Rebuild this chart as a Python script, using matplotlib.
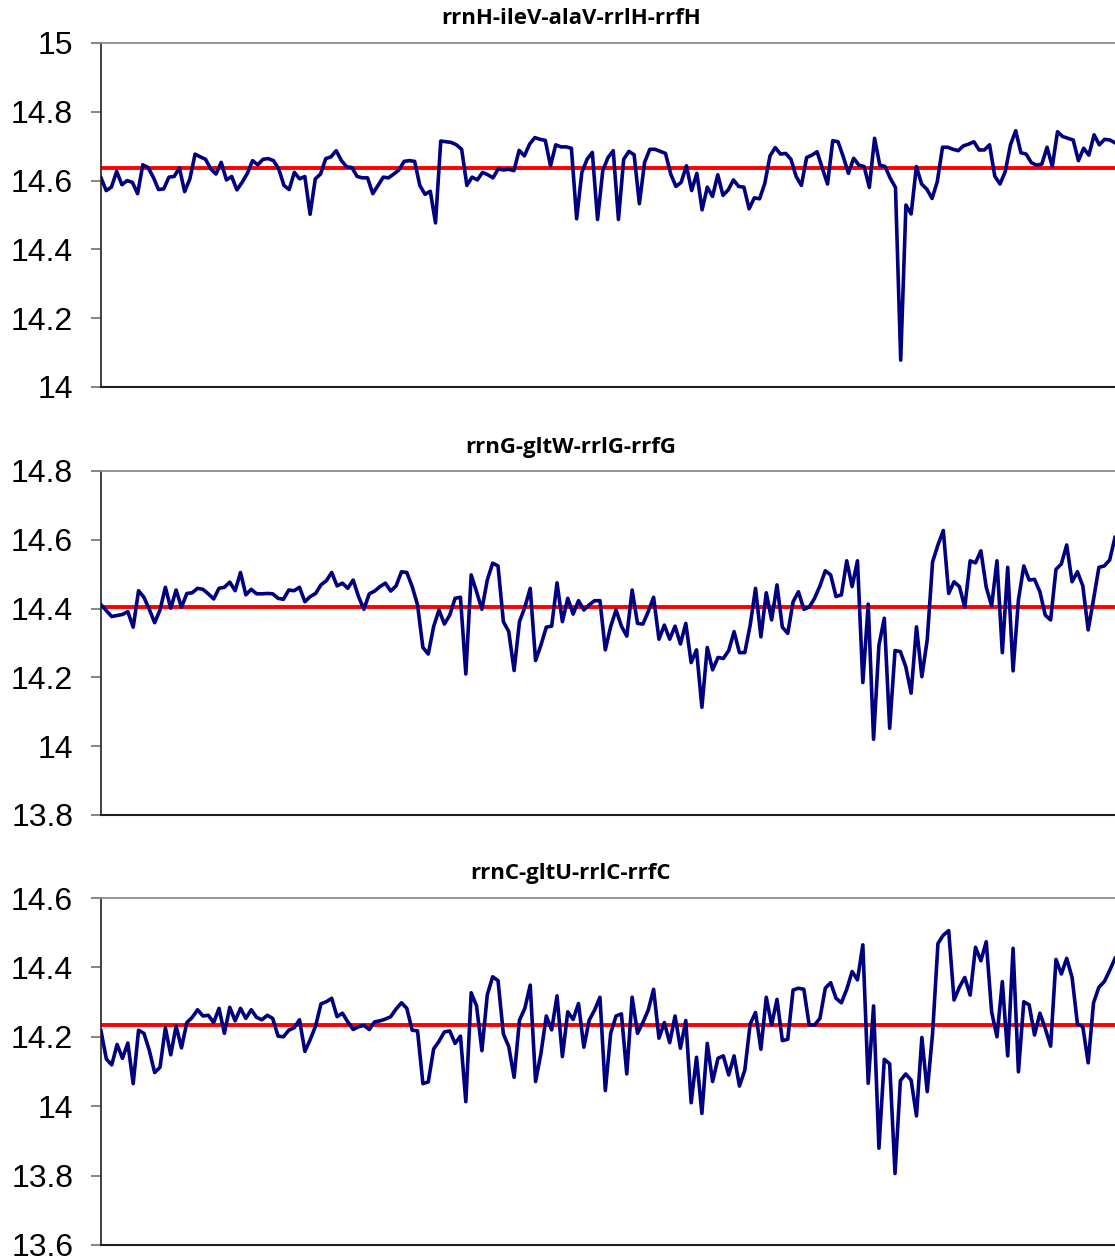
import matplotlib
matplotlib.use("Agg")
import matplotlib.pyplot as plt
from matplotlib.ticker import FuncFormatter

# titles of the three operons
titles = ["rrnH-ileV-alaV-rrlH-rrfH", "rrnG-gltW-rrlG-rrfG", "rrnC-gltU-rrlC-rrfC"]

# average level (red line)
mean_h = 14.636
mean_g = 14.406
mean_c = 14.234

rrnH = [
    14.608, 14.571, 14.581, 14.627, 14.588, 14.600, 14.595, 14.562, 14.646, 14.638,
    14.610, 14.574, 14.576, 14.610, 14.612, 14.637, 14.568, 14.605, 14.677, 14.669,
    14.662, 14.634, 14.619, 14.653, 14.602, 14.612, 14.573, 14.595, 14.621, 14.658,
    14.646, 14.662, 14.664, 14.658, 14.634, 14.586, 14.574, 14.624, 14.605, 14.612,
    14.502, 14.605, 14.619, 14.664, 14.669, 14.687, 14.658, 14.640, 14.638, 14.612,
    14.608, 14.608, 14.562, 14.586, 14.610, 14.608, 14.619, 14.631, 14.656, 14.658,
    14.656, 14.586, 14.560, 14.569, 14.477, 14.715, 14.713, 14.711, 14.704, 14.691,
    14.586, 14.610, 14.602, 14.624, 14.617, 14.608, 14.634, 14.631, 14.633, 14.629,
    14.688, 14.672, 14.706, 14.725, 14.720, 14.717, 14.643, 14.704, 14.698, 14.698,
    14.694, 14.489, 14.624, 14.662, 14.682, 14.487, 14.629, 14.667, 14.687, 14.487,
    14.662, 14.685, 14.675, 14.533, 14.653, 14.691, 14.691, 14.685, 14.679, 14.619,
    14.583, 14.595, 14.643, 14.571, 14.621, 14.515, 14.581, 14.554, 14.617, 14.557,
    14.573, 14.602, 14.583, 14.581, 14.518, 14.550, 14.547, 14.592, 14.672, 14.696,
    14.677, 14.679, 14.662, 14.612, 14.586, 14.667,
    14.674, 14.684, 14.636, 14.590, 14.716, 14.713, 14.670, 14.621, 14.665, 14.645,
    14.641, 14.580, 14.723, 14.645, 14.641, 14.607, 14.580, 14.078, 14.529, 14.503,
    14.641, 14.590, 14.575, 14.548, 14.597, 14.697, 14.697, 14.691, 14.687, 14.701,
    14.706, 14.713, 14.689, 14.689, 14.704, 14.613, 14.590, 14.626, 14.704, 14.745,
    14.681, 14.677, 14.652, 14.645, 14.648, 14.697, 14.641, 14.742, 14.728, 14.723,
    14.718, 14.658, 14.694, 14.674, 14.733, 14.704, 14.720, 14.718, 14.710,
]

rrnG = [
    14.411, 14.394, 14.377, 14.380, 14.383, 14.391, 14.346, 14.452, 14.433, 14.398,
    14.359, 14.396, 14.462, 14.401, 14.454, 14.404, 14.444, 14.446, 14.459, 14.456,
    14.443, 14.428, 14.459, 14.462, 14.477, 14.452, 14.505, 14.440, 14.456, 14.443,
    14.443, 14.444, 14.443, 14.430, 14.427, 14.454, 14.452, 14.462, 14.420, 14.435,
    14.444, 14.469, 14.481, 14.505, 14.466, 14.474, 14.459, 14.483, 14.435, 14.398,
    14.443, 14.451, 14.464, 14.474, 14.451, 14.466, 14.507, 14.505, 14.464, 14.411,
    14.287, 14.268, 14.348, 14.396, 14.355, 14.381,
    14.430, 14.433, 14.210, 14.498, 14.449, 14.398, 14.483, 14.532, 14.524, 14.362,
    14.333, 14.220, 14.362, 14.404, 14.459, 14.249, 14.294, 14.346, 14.349, 14.475,
    14.362, 14.430, 14.384, 14.423, 14.396, 14.411, 14.423, 14.423, 14.280, 14.348,
    14.396, 14.349, 14.320, 14.454, 14.357, 14.355, 14.391, 14.433, 14.311, 14.352,
    14.311, 14.349, 14.297, 14.357, 14.243, 14.280, 14.113, 14.287, 14.222, 14.258,
    14.255, 14.278, 14.333, 14.272, 14.272, 14.352, 14.459, 14.318, 14.446, 14.367,
    14.469, 14.346, 14.328, 14.420, 14.449,
    14.398, 14.404, 14.430, 14.466, 14.510, 14.498, 14.435, 14.440, 14.539, 14.464,
    14.539, 14.185, 14.413, 14.020, 14.294, 14.372, 14.052, 14.278, 14.275, 14.231,
    14.154, 14.347, 14.202, 14.309, 14.536, 14.585, 14.627, 14.444, 14.478, 14.464,
    14.404, 14.539, 14.533, 14.568, 14.462, 14.408, 14.539, 14.272, 14.520, 14.219,
    14.425, 14.524, 14.483, 14.485, 14.449, 14.381, 14.367, 14.514, 14.530, 14.585,
    14.478, 14.507, 14.466, 14.338, 14.427, 14.520, 14.524, 14.541, 14.607,
]

rrnC = [
    14.217, 14.136, 14.119, 14.178, 14.138, 14.182, 14.065, 14.219, 14.210, 14.161,
    14.097, 14.112, 14.226, 14.148, 14.231, 14.168, 14.241, 14.256, 14.278, 14.260,
    14.262, 14.241, 14.282, 14.210, 14.285, 14.246, 14.282, 14.253, 14.278, 14.256,
    14.249, 14.262, 14.253, 14.202, 14.200, 14.219, 14.226, 14.249, 14.158, 14.192,
    14.231, 14.295, 14.301, 14.311, 14.258, 14.268, 14.243, 14.221, 14.229, 14.233,
    14.221, 14.243, 14.246, 14.251, 14.258, 14.280, 14.298, 14.282, 14.219, 14.217,
    14.065, 14.070, 14.165, 14.187, 14.214, 14.217,
    14.181, 14.202, 14.013, 14.327, 14.289, 14.160, 14.321, 14.373, 14.362, 14.208,
    14.172, 14.083, 14.248, 14.282, 14.349, 14.071, 14.152, 14.260, 14.220, 14.318,
    14.143, 14.272, 14.250, 14.296, 14.170, 14.248, 14.277, 14.314, 14.045, 14.210,
    14.260, 14.266, 14.093, 14.314, 14.210, 14.241, 14.277, 14.337, 14.196, 14.241,
    14.183, 14.260, 14.167, 14.247, 14.010, 14.141, 13.979, 14.181, 14.071, 14.138,
    14.145, 14.090, 14.145, 14.058, 14.104, 14.237, 14.270, 14.164, 14.314, 14.234,
    14.308, 14.189, 14.193, 14.335, 14.340,
    14.337, 14.234, 14.234, 14.253, 14.340, 14.356, 14.311, 14.298, 14.337, 14.388,
    14.364, 14.465, 14.066, 14.289, 13.879, 14.135, 14.122, 13.806, 14.074, 14.093,
    14.075, 13.972, 14.198, 14.042, 14.210, 14.469, 14.493, 14.506, 14.306, 14.343,
    14.371, 14.320, 14.458, 14.419, 14.474, 14.272, 14.200, 14.359, 14.145, 14.455,
    14.099, 14.301, 14.292, 14.205, 14.268, 14.224, 14.173, 14.423, 14.381, 14.426,
    14.371, 14.237, 14.229, 14.125, 14.298, 14.343, 14.359, 14.391, 14.426,
]

series = [rrnH, rrnG, rrnC]
means = [mean_h, mean_g, mean_c]
ylims = [(14.0, 15.0), (13.8, 14.8), (13.6, 14.6)]

fig = plt.figure(figsize=(11.15, 12.58), dpi=100)

# axes boxes in pixels: top, bottom of each plot area
boxes = [(43, 387), (471, 815), (898, 1245)]
W, H = 1115.0, 1258.0

def fmt(v, pos):
    return ("%.1f" % v).rstrip("0").rstrip(".")

for i in range(3):
    top, bot = boxes[i]
    ax = fig.add_axes([101 / W, 1 - bot / H, 1014 / W, (bot - top) / H])
    vals = series[i]
    ax.plot(range(len(vals)), vals, color="#000080", linewidth=2.6, zorder=3)
    ax.axhline(means[i], color="#ff0000", linewidth=2.8, zorder=2)
    ax.set_xlim(0, len(vals) - 1)
    lo, hi = ylims[i]
    ax.set_ylim(lo, hi)
    ax.set_yticks([lo + 0.2 * k for k in range(6)])
    ax.yaxis.set_major_formatter(FuncFormatter(fmt))
    ax.set_xticks([])
    ax.tick_params(axis="y", direction="out", length=7, width=1.2, color="#707070",
                   pad=13, labelsize=23)
    for lab in ax.get_yticklabels():
        lab.set_fontfamily("Liberation Sans")
    ax.spines["right"].set_visible(False)
    ax.spines["top"].set_color("#8c8c8c")
    ax.spines["top"].set_linewidth(1.3)
    ax.spines["left"].set_color("#303030")
    ax.spines["left"].set_linewidth(1.3)
    ax.spines["bottom"].set_color("#202020")
    ax.spines["bottom"].set_linewidth(1.5)
    fig.text(571 / W, 1 - (top - 24) / H, titles[i], ha="center", va="center",
             fontsize=16, fontweight="bold", family="Open Sans")

plt.savefig("out.png", dpi=100)
